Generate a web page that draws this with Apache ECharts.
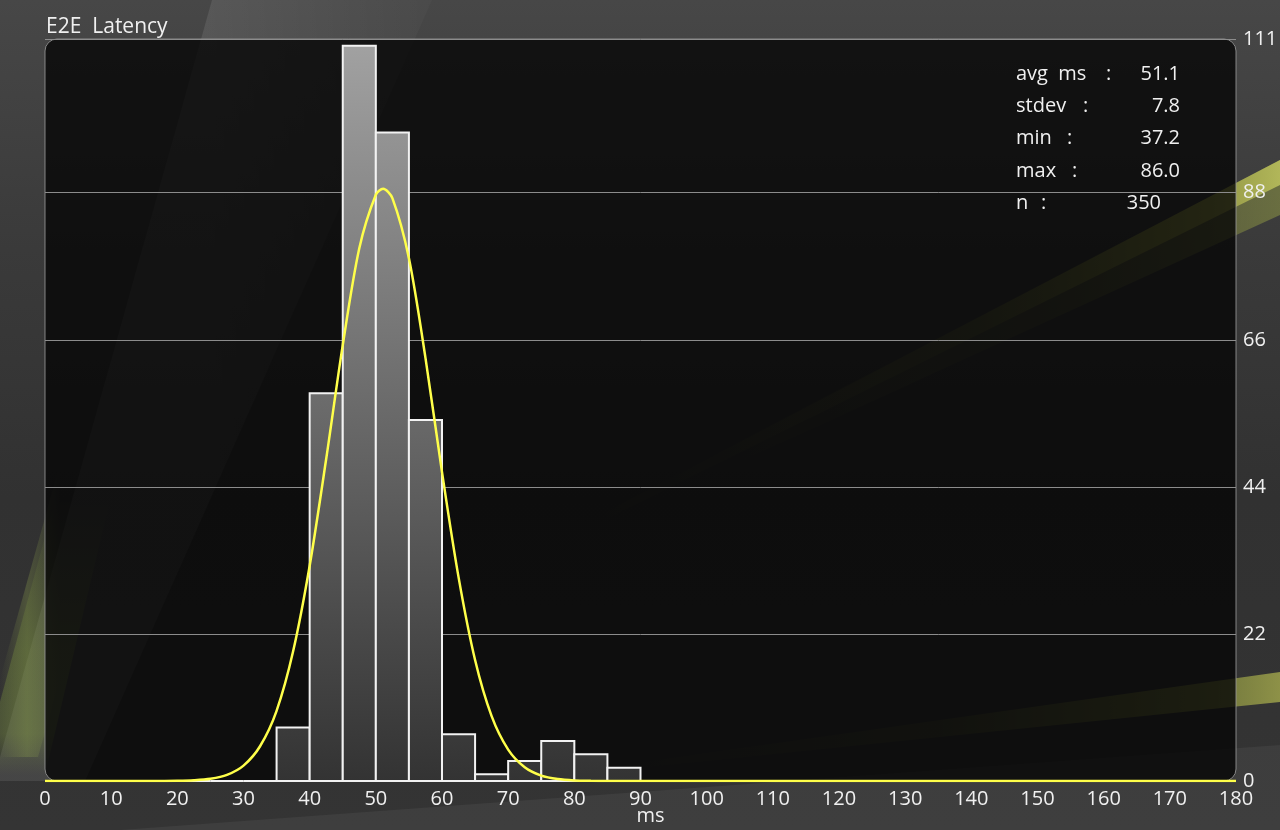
<!DOCTYPE html>
<html>
<head>
<meta charset="utf-8">
<script src="https://cdn.jsdelivr.net/npm/echarts@6/dist/echarts.min.js"></script>
<style>
  html, body { margin: 0; padding: 0; background: #363636; }
  #chart { width: 1280px; height: 830px; }
</style>
</head>
<body>
<div id="chart"></div>
<script>
// ---------- DATA ----------
var binWidth = 5;
var binStarts = [0, 5, 10, 15, 20, 25, 30, 35, 40, 45, 50, 55, 60, 65, 70, 75, 80, 85,
	90, 95, 100, 105, 110, 115, 120, 125, 130, 135, 140, 145, 150, 155, 160, 165, 170, 175];
var binCounts = [0, 0, 0, 0, 0, 0, 0, 8, 58, 110, 97, 54, 7, 1, 3, 6, 4, 2,
	0, 0, 0, 0, 0, 0, 0, 0, 0, 0, 0, 0, 0, 0, 0, 0, 0, 0];

// fitted normal curve
var curveX = [0, 15, 17.5, 20, 22.5, 25, 27.5, 30, 32.5, 35, 37.5, 40, 42.5, 45, 47.5, 50, 51.1,
	52.5, 55, 57.5, 60, 62.5, 65, 67.5, 70, 72.5, 75, 77.5, 80, 82.5, 85, 90, 180];
var curveY = [0, 0, 0.01, 0.03, 0.11, 0.33, 0.91, 2.3, 5.2, 10.5, 19.4, 32.2, 48.2, 65.2, 79.7, 87.7, 88.6,
	87.2, 78.2, 63.3, 46.2, 30.5, 18.1, 9.7, 4.7, 2.06, 0.81, 0.29, 0.09, 0.03, 0.01, 0, 0];

var yTicks = [0, 22, 44, 66, 88, 111];

var statLabels = ['avg  ms', 'stdev', 'min', 'max', 'n'];
var statColonX = [1106, 1083, 1067, 1072, 1041];
var statValues = ['51.1', '7.8', '37.2', '86.0', '350'];
var statValueRight = [1180, 1180, 1180, 1180, 1161];

// ---------- CHART ----------
var chart = echarts.init(document.getElementById('chart'));
var textColor = '#f0f0f0';
var font = '"Open Sans", "Noto Sans", sans-serif';
var LG = echarts.graphic.LinearGradient;

var barData = binStarts.map(function (s, i) {
	return [s, s + binWidth, binCounts[i]];
});
var curveData = curveX.map(function (x, i) {
	return [x, curveY[i]];
});

function bg(points, fill, z) {
	return { type: 'polygon', z: z || -18, silent: true, shape: { points: points }, style: { fill: fill } };
}

var graphics = [
	{ // page background
		type: 'rect', z: -20, silent: true,
		shape: { x: 0, y: 0, width: 1280, height: 830 },
		style: {
			fill: new LG(0, 0, 0, 1, [
				{ offset: 0, color: '#474747' },
				{ offset: 0.3, color: '#3a3a3a' },
				{ offset: 0.6, color: '#313131' },
				{ offset: 1, color: '#343434' }
			])
		}
	},
	// lighter ribbon between the two left folds
	bg([[212, 0], [432, 0], [85, 781], [0, 781], [0, 757]], new LG(212, 0, 432, 0, [
		{ offset: 0, color: 'rgba(255,255,255,0.09)' },
		{ offset: 1, color: 'rgba(255,255,255,0.02)' }
	], true), -19),
	// lower bottom ribbon
	bg([[120, 830], [1280, 745], [1280, 830]], 'rgba(255,255,255,0.05)', -19),
	// fold A glow, whole length
	bg([[190, 0], [-22, 757], [38, 757], [250, 0]], new LG(0, 380, 60, 380, [
		{ offset: 0, color: 'rgba(150,170,80,0)' },
		{ offset: 0.45, color: 'rgba(150,170,80,0.28)' },
		{ offset: 1, color: 'rgba(150,170,80,0)' }
	], true)),
	// fold A glow, brighter lower part
	bg([[55, 500], [-20, 775], [45, 775], [110, 500]], new LG(0, 500, 0, 775, [
		{ offset: 0, color: 'rgba(130,155,65,0)' },
		{ offset: 0.55, color: 'rgba(130,155,65,0.3)' },
		{ offset: 0.85, color: 'rgba(130,155,65,0.32)' },
		{ offset: 1, color: 'rgba(130,155,65,0)' }
	], true)),
	// fold B faint green
	bg([[420, 0], [75, 781], [105, 781], [440, 0]], new LG(0, 300, 30, 300, [
		{ offset: 0, color: 'rgba(150,170,70,0.18)' },
		{ offset: 1, color: 'rgba(150,170,70,0)' }
	], true)),
	// upper right streak, wide soft part
	bg([[1280, 160], [700, 462], [700, 480], [1280, 215]], new LG(1280, 0, 700, 0, [
		{ offset: 0, color: 'rgba(160,170,70,0.45)' },
		{ offset: 0.4, color: 'rgba(150,160,60,0.15)' },
		{ offset: 1, color: 'rgba(150,160,60,0)' }
	], true)),
	// upper right streak, bright edge
	bg([[1280, 160], [600, 515], [600, 522], [1280, 185]], new LG(1280, 0, 600, 0, [
		{ offset: 0, color: 'rgba(195,200,95,0.8)' },
		{ offset: 0.1, color: 'rgba(175,180,75,0.65)' },
		{ offset: 0.45, color: 'rgba(150,160,60,0.15)' },
		{ offset: 1, color: 'rgba(150,160,60,0)' }
	], true)),
	// lower right streak
	bg([[1280, 672], [600, 768], [600, 772], [1280, 702]], new LG(1280, 0, 600, 0, [
		{ offset: 0, color: 'rgba(180,185,80,0.7)' },
		{ offset: 0.1, color: 'rgba(165,175,70,0.55)' },
		{ offset: 0.5, color: 'rgba(150,160,60,0.15)' },
		{ offset: 1, color: 'rgba(150,160,60,0)' }
	], true)),
	{ // dark panel
		type: 'rect', z: -10, silent: true,
		shape: { x: 45, y: 39, width: 1191, height: 742, r: 12 },
		style: { fill: 'rgba(4,4,4,0.78)', stroke: 'rgba(150,150,150,0.85)', lineWidth: 1 }
	}
];

statLabels.forEach(function (lab, i) {
	var y = 74 + i * 32.3;
	var st = { fill: textColor, font: '20px ' + font, verticalAlign: 'middle', textAlign: 'left' };
	graphics.push({ type: 'text', z: 100, silent: true, x: 1016, y: y,
		style: Object.assign({ text: lab }, st) });
	graphics.push({ type: 'text', z: 100, silent: true, x: statColonX[i], y: y,
		style: Object.assign({ text: ':' }, st) });
	graphics.push({ type: 'text', z: 100, silent: true, x: statValueRight[i], y: y,
		style: Object.assign({ text: statValues[i] }, st, { textAlign: 'right' }) });
});

var option = {
	backgroundColor: '#363636',
	animation: false,
	title: {
		text: 'E2E  Latency',
		left: 46,
		top: 17,
		padding: 0,
		textStyle: { color: textColor, fontSize: 21, fontWeight: 'normal', fontFamily: font }
	},
	graphic: graphics,
	grid: {
		left: 45,
		right: 44,
		top: 39,
		bottom: 49,
		outerBoundsMode: 'none'
	},
	xAxis: {
		type: 'value',
		min: 0,
		max: 180,
		interval: 10,
		name: 'ms',
		nameLocation: 'middle',
		nameGap: 25,
		nameMoveOverlap: false,
		nameTextStyle: { color: textColor, fontSize: 20, fontFamily: font, padding: [0, 0, 0, 20] },
		axisLine: { show: false },
		axisTick: { show: false },
		splitLine: { show: false },
		axisLabel: { color: textColor, fontSize: 20, fontFamily: font, margin: 8 }
	},
	yAxis: {
		type: 'value',
		position: 'right',
		min: 0,
		max: 111,
		axisLine: { show: false },
		axisTick: { show: false, customValues: yTicks },
		axisLabel: { customValues: yTicks, color: textColor, fontSize: 20, fontFamily: font, margin: 7 },
		splitLine: { lineStyle: { color: '#8c8c8c', width: 1 } }
	},
	series: [
		{
			name: 'count',
			type: 'custom',
			z: 3,
			renderItem: function (params, api) {
				var p0 = api.coord([api.value(0), api.value(2)]);
				var p1 = api.coord([api.value(1), 0]);
				var top = api.coord([0, 111]);
				var fill = new LG(0, top[1], 0, p1[1], [
					{ offset: 0, color: '#a2a2a2' },
					{ offset: 0.5, color: '#6a6a6a' },
					{ offset: 1, color: '#333333' }
				], true);
				return {
					type: 'rect',
					shape: { x: p0[0], y: p0[1], width: p1[0] - p0[0], height: p1[1] - p0[1] },
					style: { fill: fill, stroke: '#f2f2f2', lineWidth: 2 }
				};
			},
			encode: { x: [0, 1], y: 2 },
			data: barData
		},
		{
			name: 'normal',
			type: 'line',
			z: 5,
			smooth: 0.3,
			showSymbol: false,
			lineStyle: { color: '#ffff4a', width: 2.5 },
			data: curveData
		}
	]
};

chart.setOption(option);
</script>
</body>
</html>
